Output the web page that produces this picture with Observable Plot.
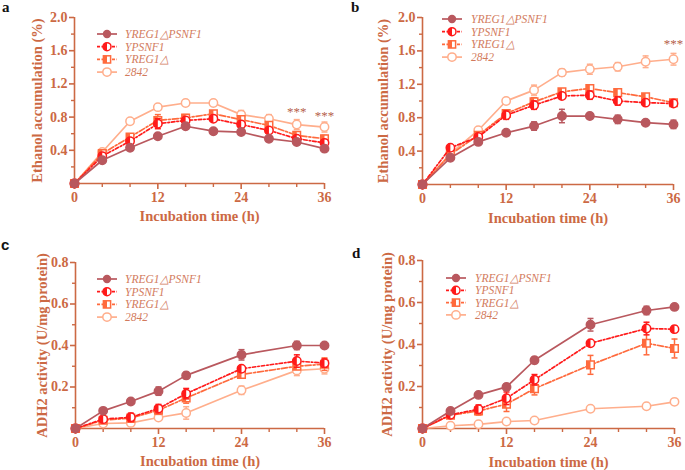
<!DOCTYPE html>
<html><head><meta charset="utf-8">
<script src="https://cdn.jsdelivr.net/npm/d3@7"></script>
<script src="https://cdn.jsdelivr.net/npm/@observablehq/plot@0.6"></script>
<style>
body{margin:0;background:#fff;}
#fig{position:relative;width:685px;height:470px;overflow:hidden;background:#fff;}
#fig svg.panel{position:absolute;overflow:visible;}
.letter{position:absolute;font-weight:bold;font-size:15px;color:#111;}
</style></head>
<body><div id="fig"></div>
<script>
// ---------- data ----------
const seriesNames = ["YREG1\u25B3PSNF1", "YPSNF1", "YREG1\u25B3", "2842"];
const timesEthanol = [0, 4, 8, 12, 16, 20, 24, 28, 32, 36];
const timesADH2 = [0, 4, 8, 12, 16, 24, 32, 36];
const xMajorTicks = [0, 12, 24, 36];
const xMinorTicks = [4, 8, 16, 20, 28, 32];
const yEthMajor = [0.4, 0.8, 1.2, 1.6, 2.0];
const yEthMinor = [0.2, 0.6, 1.0, 1.4, 1.8];
const yAdhMajor = [0.2, 0.4, 0.6, 0.8];
const yAdhMinor = [0.1, 0.3, 0.5, 0.7];

// panel a: ethanol accumulation (%)
const aS1 = [0, 0.28, 0.43, 0.57, 0.69, 0.63, 0.62, 0.54, 0.50, 0.42];
const aS2 = [0, 0.33, 0.51, 0.72, 0.76, 0.78, 0.71, 0.64, 0.54, 0.49];
const aS3 = [0, 0.36, 0.56, 0.76, 0.79, 0.84, 0.77, 0.70, 0.58, 0.54];
const aS4 = [0, 0.38, 0.75, 0.92, 0.97, 0.97, 0.83, 0.78, 0.71, 0.68];
const aE1 = [0, 0.02, 0.02, 0.02, 0.02, 0.03, 0.02, 0.02, 0.02, 0.02];
const aE2 = [0, 0.02, 0.03, 0.06, 0.03, 0.03, 0.04, 0.03, 0.03, 0.03];
const aE3 = [0, 0.02, 0.03, 0.07, 0.04, 0.03, 0.03, 0.03, 0.03, 0.04];
const aE4 = [0, 0.02, 0.02, 0.02, 0.02, 0.02, 0.05, 0.05, 0.06, 0.06];
const aStars = [{t: 32, y: 0.86}, {t: 36, y: 0.82}];

// panel b: ethanol accumulation (%)
const bS1 = [0, 0.32, 0.51, 0.62, 0.70, 0.82, 0.82, 0.78, 0.74, 0.72];
const bS2 = [0, 0.44, 0.57, 0.83, 0.95, 1.06, 1.07, 1.00, 0.98, 0.97];
const bS3 = [0, 0.36, 0.59, 0.85, 0.99, 1.11, 1.15, 1.10, 1.05, 0.98];
const bS4 = [0, 0.37, 0.65, 1.00, 1.13, 1.34, 1.38, 1.41, 1.47, 1.50];
const bE1 = [0, 0.02, 0.02, 0.02, 0.05, 0.08, 0.03, 0.05, 0.03, 0.05];
const bE2 = [0, 0.02, 0.02, 0.05, 0.05, 0.03, 0.05, 0.05, 0.03, 0.02];
const bE3 = [0, 0.02, 0.03, 0.04, 0.05, 0.03, 0.03, 0.03, 0.02, 0.02];
const bE4 = [0, 0.02, 0.03, 0.02, 0.06, 0.04, 0.06, 0.05, 0.07, 0.07];
const bStars = [{t: 36, y: 1.68}];

// panel c: ADH2 activity (U/mg protein)
const cS1 = [0, 0.085, 0.13, 0.18, 0.256, 0.355, 0.40, 0.40];
const cS2 = [0, 0.045, 0.054, 0.096, 0.168, 0.288, 0.325, 0.315];
const cS3 = [0, 0.04, 0.05, 0.088, 0.147, 0.26, 0.30, 0.31];
const cS4 = [0, 0.024, 0.027, 0.053, 0.075, 0.184, 0.28, 0.288];
const cE1 = [0, 0.005, 0.005, 0.02, 0.015, 0.025, 0.02, 0.006];
const cE2 = [0, 0.01, 0.02, 0.02, 0.025, 0.01, 0.03, 0.02];
const cE3 = [0, 0.01, 0.02, 0.02, 0.025, 0.015, 0.015, 0.03];
const cE4 = [0, 0.01, 0.01, 0.01, 0.03, 0.02, 0.025, 0.025];

// panel d: ADH2 activity (U/mg protein)
const dS1 = [0, 0.083, 0.16, 0.198, 0.325, 0.494, 0.562, 0.579];
const dS2 = [0, 0.065, 0.092, 0.144, 0.232, 0.406, 0.476, 0.473];
const dS3 = [0, 0.063, 0.084, 0.116, 0.19, 0.303, 0.406, 0.381];
const dS4 = [0, 0.013, 0.02, 0.033, 0.038, 0.094, 0.106, 0.127];
const dE1 = [0, 0.005, 0.005, 0.015, 0.015, 0.03, 0.02, 0.006];
const dE2 = [0, 0.01, 0.02, 0.03, 0.025, 0.006, 0.03, 0.015];
const dE3 = [0, 0.01, 0.02, 0.035, 0.03, 0.045, 0.055, 0.045];
const dE4 = [0, 0.004, 0.004, 0.004, 0.004, 0.004, 0.004, 0.006];

// ---------- styles ----------
const axisColor = "#cc6944";
const colors = ["#b9585e", "#ff1a1a", "#ff6a3d", "#ffae8c"];
const dashes = [null, "3.5,2,1.5,2", "6,2,2,2", null];
const markerKind = ["filled", "halfCircle", "halfSquare", "open"];
const serif = "'Liberation Serif', 'Times New Roman', serif";

const halfCircle = {draw(ctx, size) { const r = Math.sqrt(size / Math.PI); ctx.moveTo(0, -r); ctx.arc(0, 0, r, -Math.PI / 2, Math.PI / 2, true); ctx.closePath(); }};
const squareSym = {draw(ctx, size) { const h = Math.sqrt(size / Math.PI) * 0.9; ctx.rect(-h, -h, 2 * h, 2 * h); }};
const halfSquare = {draw(ctx, size) { const h = Math.sqrt(size / Math.PI) * 0.9; ctx.rect(-h, -h, h, 2 * h); }};
const capSym = {draw(ctx, size) { const r = Math.sqrt(size / Math.PI); ctx.moveTo(-r, 0); ctx.lineTo(r, 0); }};

function seriesMarks(rows, i) {
  const col = colors[i];
  const errRows = rows.filter(d => d.e > 0);
  const m = [
    Plot.ruleX(errRows, {x: "t", y1: d => d.y - d.e, y2: d => d.y + d.e, stroke: col, strokeWidth: 1.5}),
    Plot.dot(errRows, {x: "t", y: d => d.y + d.e, symbol: capSym, r: 3, stroke: col, strokeWidth: 1.5, fill: "none"}),
    Plot.dot(errRows, {x: "t", y: d => d.y - d.e, symbol: capSym, r: 3, stroke: col, strokeWidth: 1.5, fill: "none"}),
    Plot.line(rows, {x: "t", y: "y", stroke: col, strokeWidth: 1.7, strokeDasharray: dashes[i]})
  ];
  const k = markerKind[i];
  if (k === "filled") m.push(Plot.dot(rows, {x: "t", y: "y", r: 4.2, fill: col, stroke: col}));
  if (k === "open") m.push(Plot.dot(rows, {x: "t", y: "y", r: 4.2, fill: "white", stroke: col, strokeWidth: 1.5}));
  if (k === "halfCircle") m.push(
    Plot.dot(rows, {x: "t", y: "y", r: 4.2, fill: "white", stroke: col, strokeWidth: 1.5}),
    Plot.dot(rows, {x: "t", y: "y", r: 4.2, symbol: halfCircle, fill: col}));
  if (k === "halfSquare") m.push(
    Plot.dot(rows, {x: "t", y: "y", r: 4.2, symbol: squareSym, fill: "white", stroke: col, strokeWidth: 1.5}),
    Plot.dot(rows, {x: "t", y: "y", r: 4.2, symbol: halfSquare, fill: col}));
  return m;
}

function makePanel(cfg) {
  const series = cfg.values.map((vals, i) => cfg.times.map((t, j) => ({t, y: vals[j], e: cfg.errors[i][j]})));
  const marks = [
    Plot.ruleX([0], {stroke: axisColor, strokeWidth: 1.6}),
    Plot.ruleY([0], {stroke: axisColor, strokeWidth: 1.6}),
    Plot.axisX(xMajorTicks, {tickSize: 6, tickPadding: 3, color: axisColor, strokeWidth: 1.6, label: null, fontSize: 14}),
    Plot.axisX(xMinorTicks, {tickSize: 4, color: axisColor, strokeWidth: 1.4, label: null, tickFormat: () => ""}),
    Plot.axisY(cfg.yMajor, {tickSize: 5, tickPadding: 2, color: axisColor, strokeWidth: 1.6, label: null, fontSize: 14, tickFormat: d3.format(".1f")}),
    Plot.axisY(cfg.yMinor, {tickSize: 3, color: axisColor, strokeWidth: 1.4, label: null, tickFormat: () => ""}),
    Plot.text([cfg.xLabel], {frameAnchor: "bottom", lineAnchor: "middle", textAnchor: "middle", dy: cfg.xLabelDy, fill: axisColor, fontSize: 14.5, fontWeight: "bold"}),
    Plot.text([cfg.yLabel], {frameAnchor: "left", lineAnchor: "middle", textAnchor: "middle", rotate: -90, dx: cfg.yLabelDx, fill: axisColor, fontSize: 14.5, fontWeight: "bold"})
  ];
  for (let i = 3; i >= 0; i--) marks.push(...seriesMarks(series[i], i));
  if (cfg.stars) marks.push(Plot.text(cfg.stars, {x: "t", y: "y", text: () => "***", fill: "#b5604a", fontSize: 13, fontWeight: "normal"}));
  const svg = Plot.plot({
    width: cfg.width, height: cfg.height,
    marginLeft: cfg.ml, marginRight: cfg.mr, marginTop: cfg.mt, marginBottom: cfg.mb,
    x: {domain: [0, 36]}, y: {domain: [0, cfg.ymax]},
    style: {fontFamily: serif, fontWeight: "bold", background: "transparent", overflow: "visible"},
    marks
  });
  svg.classList.add("panel");
  svg.style.left = cfg.left + "px";
  svg.style.top = cfg.top + "px";
  // legend
  const g = d3.select(svg).append("g").attr("transform", `translate(${cfg.legX},${cfg.legY})`);
  seriesNames.forEach((name, i) => {
    const row = g.append("g").attr("transform", `translate(0,${i * cfg.legStep})`);
    const col = colors[i];
    row.append("line").attr("x1", 0).attr("x2", 20).attr("y1", 0).attr("y2", 0)
      .attr("stroke", col).attr("stroke-width", 1.7).attr("stroke-dasharray", dashes[i] ? "3,1.5,1.5,1.5" : null);
    const k = markerKind[i];
    if (k === "filled") row.append("circle").attr("cx", 10).attr("r", 4.2).attr("fill", col);
    if (k === "open") row.append("circle").attr("cx", 10).attr("r", 4.2).attr("fill", "white").attr("stroke", col).attr("stroke-width", 1.5);
    if (k === "halfCircle") {
      row.append("circle").attr("cx", 10).attr("r", 4).attr("fill", "white").attr("stroke", col).attr("stroke-width", 1.5);
      row.append("path").attr("d", "M10,-4A4,4 0 0,0 10,4Z").attr("fill", col);
    }
    if (k === "halfSquare") {
      row.append("rect").attr("x", 6.4).attr("y", -3.6).attr("width", 7.2).attr("height", 7.2).attr("fill", "white").attr("stroke", col).attr("stroke-width", 1.5);
      row.append("rect").attr("x", 6.4).attr("y", -3.6).attr("width", 3.6).attr("height", 7.2).attr("fill", col);
    }
    row.append("text").attr("x", cfg.legTextX).attr("y", 0).attr("dy", "0.35em")
      .attr("text-anchor", "start")
      .attr("fill", "#d27a5c").attr("font-style", "italic").attr("font-weight", "normal")
      .attr("font-size", 11.5).text(name);
  });
  return svg;
}

const fig = document.getElementById("fig");
const panels = [
  {left: 0, top: 0, width: 342, height: 235, ml: 74, mr: 18, mt: 17, mb: 52, ymax: 2.0,
   times: timesEthanol, values: [aS1, aS2, aS3, aS4], errors: [aE1, aE2, aE3, aE4],
   yMajor: yEthMajor, yMinor: yEthMinor, yLabel: "Ethanol accumulation (%)", xLabel: "Incubation time (h)",
   yLabelDx: -37, xLabelDy: 33, stars: aStars, legX: 97, legY: 34, legStep: 12.7, legTextX: 28},
  {left: 340, top: 0, width: 345, height: 235, ml: 82, mr: 12, mt: 17, mb: 51, ymax: 2.0,
   times: timesEthanol, values: [bS1, bS2, bS3, bS4], errors: [bE1, bE2, bE3, bE4],
   yMajor: yEthMajor, yMinor: yEthMinor, yLabel: "Ethanol accumulation (%)", xLabel: "Incubation time (h)",
   yLabelDx: -39, xLabelDy: 34, stars: bStars, legX: 102, legY: 19, legStep: 12.7, legTextX: 29},
  {left: 0, top: 235, width: 342, height: 235, ml: 75, mr: 18, mt: 27, mb: 42, ymax: 0.8,
   times: timesADH2, values: [cS1, cS2, cS3, cS4], errors: [cE1, cE2, cE3, cE4],
   yMajor: yAdhMajor, yMinor: yAdhMinor, yLabel: "ADH2 activity (U/mg protein)", xLabel: "Incubation time (h)",
   yLabelDx: -33, xLabelDy: 33, stars: null, legX: 97, legY: 44, legStep: 12.7, legTextX: 28},
  {left: 340, top: 235, width: 345, height: 235, ml: 82, mr: 11, mt: 25, mb: 42, ymax: 0.8,
   times: timesADH2, values: [dS1, dS2, dS3, dS4], errors: [dE1, dE2, dE3, dE4],
   yMajor: yAdhMajor, yMinor: yAdhMinor, yLabel: "ADH2 activity (U/mg protein)", xLabel: "Incubation time (h)",
   yLabelDx: -35, xLabelDy: 34, stars: null, legX: 106, legY: 43, legStep: 12.3, legTextX: 29}
];
panels.forEach(p => fig.appendChild(makePanel(p)));

const letters = [
  {t: "a", x: 2, y: -1, f: serif},
  {t: "b", x: 351, y: -1, f: serif},
  {t: "c", x: 1, y: 236, f: "'Liberation Sans', Arial, sans-serif"},
  {t: "d", x: 352, y: 245, f: serif}
];
letters.forEach(l => {
  const el = document.createElement("div");
  el.className = "letter";
  el.textContent = l.t;
  el.style.left = l.x + "px"; el.style.top = l.y + "px"; el.style.fontFamily = l.f;
  fig.appendChild(el);
});
</script>
</body></html>
